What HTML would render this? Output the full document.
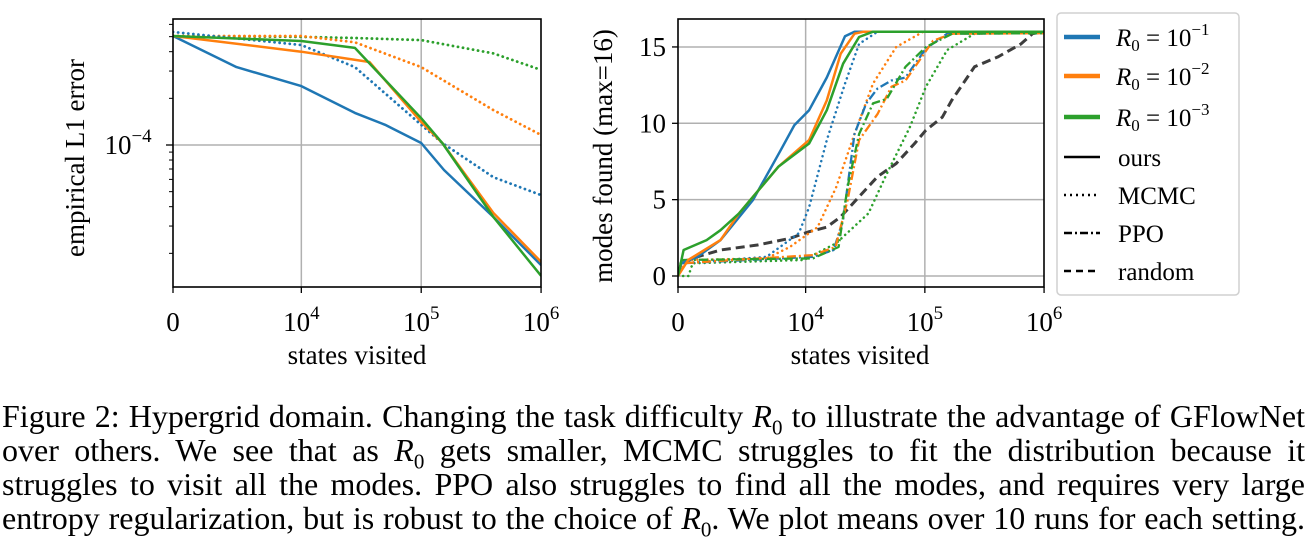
<!DOCTYPE html>
<html><head><meta charset="utf-8"><style>
body{margin:0;background:#fff;width:1307px;height:543px;overflow:hidden;position:relative;font-family:"Liberation Serif",serif}
#cap{position:absolute;left:2px;top:399px;width:1303px;font-size:32px;line-height:34px;color:#000}
#cap div{text-align:justify;text-align-last:justify;height:34px;white-space:nowrap;overflow:visible}
svg text{font-family:"Liberation Serif",serif;fill:#000}
</style></head><body>
<svg id="fig" width="1307" height="390" style="position:absolute;left:0;top:0"></svg>
<div id="cap">
<div style="white-space:normal">Figure 2: Hypergrid domain. Changing the task difficulty <i>R</i><sub style="font-size:21px;line-height:0">0</sub> to illustrate the advantage of GFlowNet</div>
<div style="white-space:normal">over others. We see that as <i>R</i><sub style="font-size:21px;line-height:0">0</sub> gets smaller, MCMC struggles to fit the distribution because it</div>
<div style="white-space:normal">struggles to visit all the modes. PPO also struggles to find all the modes, and requires very large</div>
<div style="white-space:normal">entropy regularization, but is robust to the choice of <i>R</i><sub style="font-size:21px;line-height:0">0</sub>. We plot means over 10 runs for each setting.</div>
</div>
<script>
// ---- data: left panel (empirical L1 error) ----
const leftX = [0, 4500, 10000, 28000, 50000, 100000, 155000, 400000, 1000000];
const oursB_L = [5.05e-4, 3.18e-4, 2.40e-4, 1.61e-4, 1.35e-4, 1.03e-4, 6.9e-5, 3.43e-5, 1.68e-5];
const leftX2 = [0, 10000, 37000, 100000, 150000, 400000, 1000000];
const oursO_L = [5.05e-4, 4.0e-4, 3.43e-4, 1.41e-4, 1.03e-4, 3.64e-5, 1.76e-5];
const leftX3 = [0, 10000, 28000, 100000, 150000, 400000, 1000000];
const oursG_L = [5.05e-4, 4.69e-4, 4.23e-4, 1.49e-4, 1.03e-4, 3.43e-5, 1.43e-5];
const mcmcB_L = [5.36e-4, 4.42e-4, 3.18e-4, 1.35e-4, 1.03e-4, 6.2e-5, 4.75e-5];
const leftX4 = [0, 10000, 28000, 100000, 400000, 1000000];
const mcmcO_L = [5.05e-4, 5.05e-4, 4.6e-4, 3.18e-4, 1.68e-4, 1.16e-4];
const mcmcG_L = [5.05e-4, 4.98e-4, 4.9e-4, 4.75e-4, 3.9e-4, 3.05e-4];
const leftYTicksMinor = [2e-5,3e-5,4e-5,5e-5,6e-5,7e-5,8e-5,9e-5,2e-4,3e-4,4e-4,5e-4,6e-4];
// ---- data: right panel (modes found) ----
const oB_x=[0,230,1385,3030,5340,7320,8300,10700,15050,21400,25700,1000000];
const oB_y=[0,0.83,1.26,2.35,4.97,8.24,9.88,10.86,13.0,15.7,16,16];
const oO_x=[0,725,3030,4350,7150,10700,15050,19700,25700,30700,1000000];
const oO_y=[0,1.05,2.35,4.1,7.15,8.9,11.5,14.56,15.87,16,16];
const oG_x=[0,400,2040,3030,4350,7150,10700,15050,20600,28100,36700,1000000];
const oG_y=[0,1.7,2.35,3.0,4.1,7.15,8.68,10.86,13.9,15.65,16,16];
const mB_x=[0,230,6320,8760,10700,15050,21400,28100,40100,1000000];
const mB_y=[0,0.83,1.26,2.8,4.5,8.9,12.6,15.2,16,16];
const mO_x=[0,400,6320,7970,12600,18000,25700,36700,57500,97000,1000000];
const mO_y=[0,1.05,1.15,1.9,3.2,5.8,9.3,12.6,15.0,16,16];
const mG_x=[0,740,1050,9630,18000,33600,48000,75000,102000,154000,261000,1000000];
const mG_y=[0,0,0.83,1.05,2.14,4.1,6.7,9.77,12.4,14.8,15.87,16];
const pB_x=[0,230,11500,17200,20600,25700,32200,40100,52500,68800,102000,154000,1000000];
const pB_y=[0,0.83,1.26,1.7,3.66,9.3,11.3,12.27,12.8,13.0,14.9,15.87,15.9];
const pO_x=[0,230,11500,17800,22500,28100,40100,52500,68800,117000,170000,1000000];
const pO_y=[0,0.83,1.37,1.9,4.97,8.9,10.6,12.4,12.8,15.4,15.87,15.9];
const pG_x=[0,230,11500,18900,22500,28100,36700,48000,68800,102000,170000,1000000];
const pG_y=[0,1.05,1.15,1.9,5.84,9.3,11.3,11.6,13.7,15.0,15.87,15.9];
const rn_x=[0,230,1385,3030,5670,7970,10700,15050,19700,28100,40100,57500,82000,102000,140000,168000,261000,410000,640000,800000,1000000];
const rn_y=[0,0.83,1.26,1.7,2.03,2.46,2.9,3.2,3.88,5.19,6.5,7.37,8.68,9.55,10.4,11.5,13.7,14.35,15.2,15.87,16];
const rightYTicks=[0,5,10,15];
const xTickVals=[0,1e4,1e5,1e6];
const xTickExp=["","4","5","6"];

const NS="http://www.w3.org/2000/svg";
const svg=document.getElementById('fig');
function mk(tag,attrs,parent){const e=document.createElementNS(NS,tag);for(const k in attrs)e.setAttribute(k,attrs[k]);(parent||svg).appendChild(e);return e;}
const L=8500, TMAX=3.07;
function tx(x){return x<=L? x/L : 1+Math.log10(x/L);}
function makeX(x0,w){return x=>x0+tx(x)/TMAX*w;}
const LX0=173,LX1=541,TOP=19,BOT=287;
const lx=makeX(LX0,LX1-LX0);
const ly=v=>145-(Math.log10(v)+4)*155;
const RX0=678,RX1=1044;
const rx=makeX(RX0,RX1-RX0);
const ry=v=>276-v*15.27;
const GRID='#b0b0b0';
const FS=27;
function line(x1,y1,x2,y2,st,w,name){const e=mk('line',{x1,y1,x2,y2,stroke:st,'stroke-width':w});return e;}
function text(x,y,s,size,anchor,name){const e=mk('text',{x,y,'font-size':size,'text-anchor':anchor||'middle'});e.textContent=s;return e;}
function pw(x,y,size,exp,name){const e=mk('text',{x,y,'font-size':size,'text-anchor':'middle'});
 const a=mk('tspan',{},e);a.textContent='10';const b=mk('tspan',{dy:-12,'font-size':size*0.7},e);b.textContent=exp;return e;}
function path(xs,ys,fx,fy,color,dash,w,name){let d='';for(let i=0;i<xs.length;i++)d+=(i?'L':'M')+fx(xs[i]).toFixed(1)+','+fy(ys[i]).toFixed(1);
 const e=mk('path',{d,fill:'none',stroke:color,'stroke-width':w,'stroke-dasharray':dash||'none','stroke-linejoin':'round','stroke-linecap':dash&&dash.startsWith('0')?'round':'butt'});
 return e;}
const B='#1f77b4',O='#ff7f0e',G='#2ca02c',K='#3d3d3d';
const DOT='0.1,5', DASHDOT='9,3,2,3', DASH='9,5';

[1e4,1e5].forEach(v=>line(lx(v),TOP,lx(v),BOT,GRID,1.5,'left-x-grid'));
line(LX0,ly(1e-4),LX1,ly(1e-4),GRID,1.5,'left-y-grid');
const clipL=mk('clipPath',{id:'cl'});mk('rect',{x:LX0,y:TOP,width:LX1-LX0,height:BOT-TOP},clipL);
const gL=mk('g',{'clip-path':'url(#cl)'});
const LW=2.5;
gL.appendChild(path(leftX4,mcmcG_L,lx,ly,G,DOT,2.8,'mcmc-r3-line'));
gL.appendChild(path(leftX4,mcmcO_L,lx,ly,O,DOT,2.8,'mcmc-r2-line'));
gL.appendChild(path(leftX3,mcmcB_L,lx,ly,B,DOT,2.8,'mcmc-r1-line'));
gL.appendChild(path(leftX,oursB_L,lx,ly,B,null,LW,'ours-r1-line'));
gL.appendChild(path(leftX2,oursO_L,lx,ly,O,null,LW,'ours-r2-line'));
gL.appendChild(path(leftX3,oursG_L,lx,ly,G,null,LW,'ours-r3-line'));
const fl=mk('rect',{x:LX0,y:TOP,width:LX1-LX0,height:BOT-TOP,fill:'none',stroke:'#000','stroke-width':1.6});
leftYTicksMinor.forEach(v=>line(LX0-4,ly(v),LX0,ly(v),'#000',1,'left-y-minor-tick'));
line(LX0-7,ly(1e-4),LX0,ly(1e-4),'#000',1.3,'left-y-major-tick');
pw(128,ly(1e-4)+9,FS,'−4','left-y-tick-label');
xTickVals.forEach((v,i)=>{line(lx(v),BOT,lx(v),BOT+6,'#000',1.3,'left-x-tick');
 if(i===0)text(lx(v),331,'0',FS,'middle','left-x-tick-label');else pw(lx(v),331,FS,xTickExp[i],'left-x-tick-label');});
text(357,364,'states visited',FS,'middle','left-x-axis-title');
const yl=text(0,0,'empirical L1 error',FS,'middle','left-y-axis-title');yl.setAttribute('transform','translate(84,158) rotate(-90)');

[1e4,1e5].forEach(v=>line(rx(v),TOP,rx(v),BOT,GRID,1.5,'right-x-grid'));
rightYTicks.forEach(v=>line(RX0,ry(v),RX1,ry(v),GRID,1.5,'right-y-grid'));
const clipR=mk('clipPath',{id:'cr'});mk('rect',{x:RX0,y:TOP,width:RX1-RX0,height:BOT-TOP},clipR);
const gR=mk('g',{'clip-path':'url(#cr)'});
gR.appendChild(path(rn_x,rn_y,rx,ry,K,DASH,3,'random-line'));
gR.appendChild(path(mG_x,mG_y,rx,ry,G,DOT,2.5,'mcmc-r3-modes'));
gR.appendChild(path(mO_x,mO_y,rx,ry,O,DOT,2.5,'mcmc-r2-modes'));
gR.appendChild(path(mB_x,mB_y,rx,ry,B,DOT,2.5,'mcmc-r1-modes'));
gR.appendChild(path(pB_x,pB_y,rx,ry,B,DASHDOT,2.3,'ppo-r1-modes'));
gR.appendChild(path(pO_x,pO_y,rx,ry,O,DASHDOT,2.3,'ppo-r2-modes'));
gR.appendChild(path(pG_x,pG_y,rx,ry,G,DASHDOT,2.3,'ppo-r3-modes'));
gR.appendChild(path(oB_x,oB_y,rx,ry,B,null,LW,'ours-r1-modes'));
gR.appendChild(path(oO_x,oO_y,rx,ry,O,null,LW,'ours-r2-modes'));
gR.appendChild(path(oG_x,oG_y,rx,ry,G,null,LW,'ours-r3-modes'));
const fr=mk('rect',{x:RX0,y:TOP,width:RX1-RX0,height:BOT-TOP,fill:'none',stroke:'#000','stroke-width':1.6});
rightYTicks.forEach(v=>{line(RX0-6,ry(v),RX0,ry(v),'#000',1.3,'right-y-tick');text(RX0-12,ry(v)+9,String(v),FS,'end','right-y-tick-label');});
xTickVals.forEach((v,i)=>{line(rx(v),BOT,rx(v),BOT+6,'#000',1.3,'right-x-tick');
 if(i===0)text(rx(v),331,'0',FS,'middle','right-x-tick-label');else pw(rx(v),331,FS,xTickExp[i],'right-x-tick-label');});
text(860,364,'states visited',FS,'middle','right-x-axis-title');
const yr=text(0,0,'modes found (max=16)',FS,'middle','right-y-axis-title');yr.setAttribute('transform','translate(612,156) rotate(-90)');

const lg=mk('g',{});
mk('rect',{x:1057,y:13,width:182,height:282,rx:4,fill:'#fff',stroke:'#d0d0d0','stroke-width':1.5},lg);
const legColors=[B,O,G];const legExp=['−1','−2','−3'];const legY=[37,76,117];
legY.forEach((y,i)=>{const l=mk('line',{x1:1064,y1:y,x2:1100,y2:y,stroke:legColors[i],'stroke-width':4.5},lg);
 
 const t=mk('text',{x:1116,y:y+9,'font-size':25},lg);
 const a=mk('tspan',{'font-style':'italic'},t);a.textContent='R';const b=mk('tspan',{'font-size':17,dy:5},t);b.textContent='0';
 const c=mk('tspan',{dy:-5},t);c.textContent=' = 10';const d=mk('tspan',{'font-size':17,dy:-11},t);d.textContent=legExp[i];});
const styleNames=['ours','MCMC','PPO','random'];const styleDash=[null,'2,4','8,3,2,3','7,5'];const styleY=[157,195,233,271];
styleNames.forEach((s,i)=>{const l=mk('line',{x1:1064,y1:styleY[i],x2:1100,y2:styleY[i],stroke:'#000','stroke-width':2.5,'stroke-dasharray':styleDash[i]||'none'},lg);
 
 const t=mk('text',{x:1118,y:styleY[i]+9,'font-size':25},lg);t.textContent=s;});
</script>
</body></html>
